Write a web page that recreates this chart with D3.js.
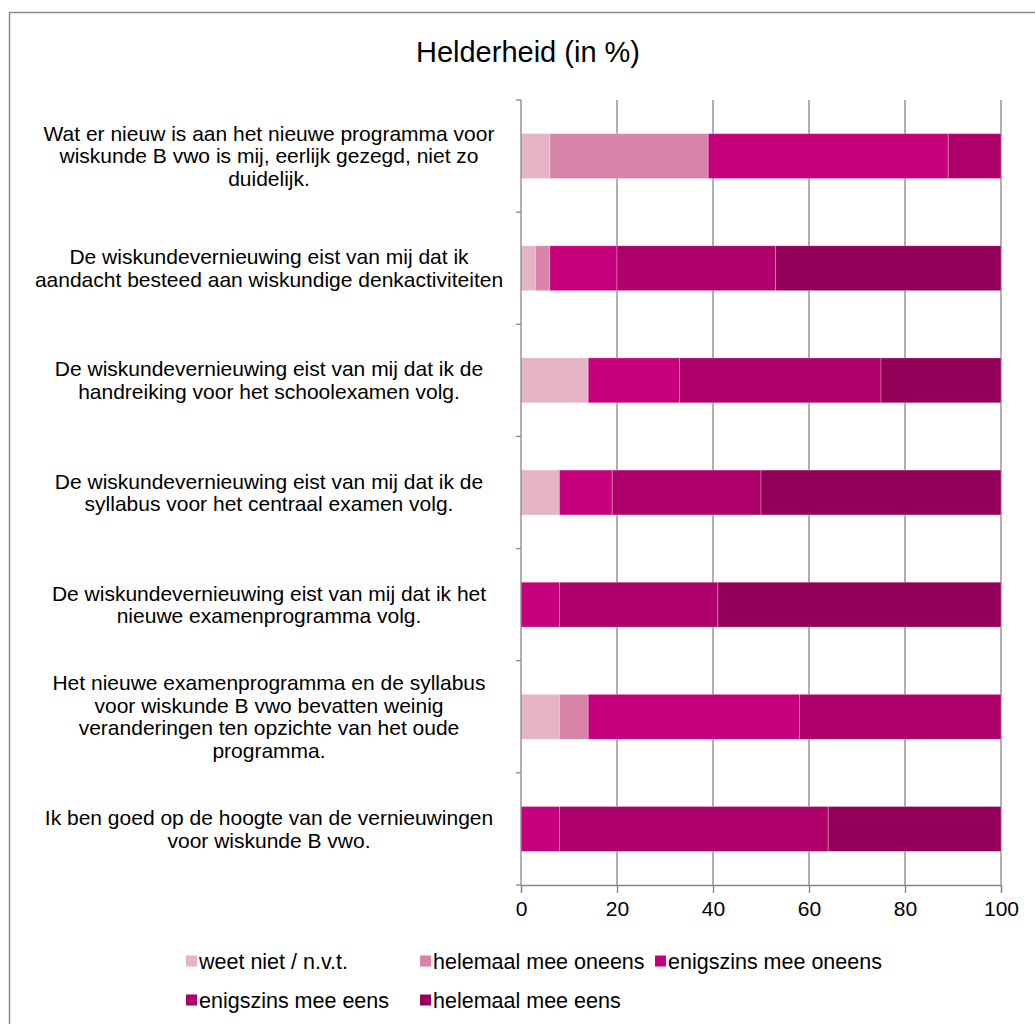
<!DOCTYPE html>
<html>
<head>
<meta charset="utf-8">
<script src="https://cdn.jsdelivr.net/npm/d3@7"></script>
<style>
  body { margin: 0; background: #fff; }
  text { font-family: "Liberation Sans", Arial, sans-serif; fill: #000; }
</style>
</head>
<body>
<svg id="chart" width="1035" height="1024"></svg>
<script>
// categories (line breaks as in the original)
var categories = [
  "Wat er nieuw is aan het nieuwe programma voor\nwiskunde B vwo is mij, eerlijk gezegd, niet zo\nduidelijk.",
  "De wiskundevernieuwing eist van mij dat ik\naandacht besteed aan wiskundige denkactiviteiten",
  "De wiskundevernieuwing eist van mij dat ik de\nhandreiking voor het schoolexamen volg.",
  "De wiskundevernieuwing eist van mij dat ik de\nsyllabus voor het centraal examen volg.",
  "De wiskundevernieuwing eist van mij dat ik het\nnieuwe examenprogramma volg.",
  "Het nieuwe examenprogramma en de syllabus\nvoor wiskunde B vwo bevatten weinig\nveranderingen ten opzichte van het oude\nprogramma.",
  "Ik ben goed op de hoogte van de vernieuwingen\nvoor wiskunde B vwo."
];
var seriesNames = ["weet niet / n.v.t.", "helemaal mee oneens", "enigszins mee oneens", "enigszins mee eens", "helemaal mee eens"];
var seriesColors = ["#e4b4c6", "#d784a8", "#c6007d", "#ad006a", "#930059"];

var weetNiet        = [6, 3, 14, 8, 0, 8, 0];
var helemaalOneens  = [33, 3, 0, 0, 0, 6, 0];
var enigszinsOneens = [50, 14, 19, 11, 8, 44, 8];
var enigszinsEens   = [11, 33, 42, 31, 33, 42, 56];
var helemaalEens    = [0, 47, 25, 50, 59, 0, 36];
var xTicks = [0, 20, 40, 60, 80, 100];

var values = [weetNiet, helemaalOneens, enigszinsOneens, enigszinsEens, helemaalEens];
var rows = categories.map(function(c, i) {
  var r = {cat: c};
  seriesNames.forEach(function(s, j) { r[s] = values[j][i]; });
  return r;
});

var svg = d3.select("#chart");

// outer frame
svg.append("rect")
  .attr("x", 9.5).attr("y", 12.5)
  .attr("width", 1040).attr("height", 1030)
  .attr("fill", "none").attr("stroke", "#8c8c8c").attr("stroke-width", 1.5);

var plotL = 521, plotR = 1001, plotT = 100, plotB = 885;

var x = d3.scaleLinear().domain([0, 100]).range([plotL, plotR]);
var y = d3.scaleBand().domain(categories).range([plotT, plotB]).paddingInner(0.6).paddingOuter(0.3);

svg.append("text")
  .attr("x", 528).attr("y", 62)
  .attr("text-anchor", "middle")
  .style("font-size", "29px")
  .text("Helderheid (in %)");

// gridlines
svg.append("g").selectAll("line")
  .data(xTicks.slice(1))
  .enter().append("line")
  .attr("x1", function(d) { return x(d); })
  .attr("x2", function(d) { return x(d); })
  .attr("y1", plotT).attr("y2", plotB)
  .attr("stroke", "#868686").attr("stroke-width", 1.3);

// stacked bars
var stack = d3.stack().keys(seriesNames);
var layers = stack(rows);

svg.append("g").selectAll("g")
  .data(layers)
  .enter().append("g")
  .attr("fill", function(d, i) { return seriesColors[i]; })
  .selectAll("rect")
  .data(function(d) { return d; })
  .enter().append("rect")
  .attr("x", function(d) { return x(d[0]); })
  .attr("width", function(d) { return x(d[1]) - x(d[0]); })
  .attr("y", function(d) { return y(d.data.cat); })
  .attr("height", y.bandwidth())
  .attr("stroke", "rgba(255,255,255,0.35)")
  .attr("stroke-width", 0.8);

// x axis
var xAxis = svg.append("g")
  .attr("transform", "translate(0," + plotB + ")")
  .call(d3.axisBottom(x).tickValues(xTicks).tickSize(8).tickPadding(8).tickFormat(d3.format("d")));
xAxis.select(".domain").attr("stroke", "#868686").attr("stroke-width", 1.3);
xAxis.selectAll(".tick line").attr("stroke", "#868686").attr("stroke-width", 1.3);
xAxis.selectAll("text").style("font-size", "21px").attr("font-family", null).attr("fill", "#000");

// y axis (ticks between categories)
var step = (plotB - plotT) / categories.length;
svg.append("line")
  .attr("x1", plotL).attr("x2", plotL).attr("y1", plotT).attr("y2", plotB)
  .attr("stroke", "#868686").attr("stroke-width", 1.3);
svg.append("g").selectAll("line")
  .data(d3.range(categories.length + 1))
  .enter().append("line")
  .attr("x1", plotL - 5).attr("x2", plotL)
  .attr("y1", function(i) { return plotT + i * step; })
  .attr("y2", function(i) { return plotT + i * step; })
  .attr("stroke", "#868686").attr("stroke-width", 1.3);

// category labels
var lineH = 22.7;
var labels = svg.append("g").selectAll("text")
  .data(categories)
  .enter().append("text")
  .attr("text-anchor", "middle")
  .style("font-size", "21px");
labels.each(function(d) {
  var lines = d.split("\n");
  var t = d3.select(this);
  var y0 = y(d) + y.bandwidth() / 2 - (lines.length - 1) * lineH / 2;
  lines.forEach(function(l, k) {
    t.append("tspan")
      .attr("x", 269)
      .attr("y", y0 + k * lineH)
      .attr("dy", "0.35em")
      .text(l);
  });
});

// legend
var legendPos = [[186, 961], [420, 961], [655, 961], [186, 1000], [420, 1000]];
var legend = svg.append("g").selectAll("g")
  .data(seriesNames)
  .enter().append("g")
  .attr("transform", function(d, i) { return "translate(" + legendPos[i][0] + "," + legendPos[i][1] + ")"; });
legend.append("rect")
  .attr("x", 0).attr("y", -5.5).attr("width", 11).attr("height", 11)
  .attr("fill", function(d, i) { return seriesColors[i]; });
legend.append("text")
  .attr("x", 13).attr("dy", "0.35em")
  .style("font-size", "21.5px")
  .text(function(d) { return d; });
</script>
</body>
</html>
